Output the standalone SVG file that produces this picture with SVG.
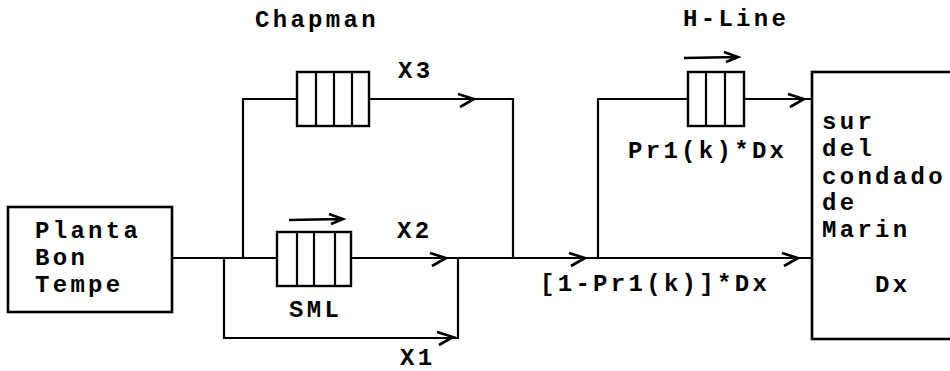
<svg xmlns="http://www.w3.org/2000/svg" width="950" height="371" viewBox="0 0 950 371">
<style>
.ln{fill:none;stroke:#000;stroke-width:2.2;stroke-linecap:square}
.bx{fill:#fff;stroke:#000;stroke-width:2.6}
.q{fill:#fff;stroke:#000;stroke-width:2.4}
.t{font-family:"Liberation Mono","DejaVu Sans Mono",monospace;font-size:24px;letter-spacing:3.3px;fill:#000;font-weight:bold}
</style>
<defs>
<path id="ah" d="M-16,-5 L0,0 L-14,8" fill="none" stroke="#000" stroke-width="2.6" stroke-linejoin="miter"/>
<path id="ta" d="M-54,1 L0,0 M-14,-5 L0,0 L-12,5" fill="none" stroke="#000" stroke-width="2.6"/>
</defs>
<rect width="950" height="371" fill="#fff"/>
<g id="connectors">
<path class="ln" d="M172,258 H277"/>
<path class="ln" d="M243,258 V99 H297"/>
<path class="ln" d="M369,99 H513 V258"/>
<path class="ln" d="M351,258 H812"/>
<path class="ln" d="M224,258 V338 H458 V258"/>
<path class="ln" d="M598,258 V99 H688"/>
<path class="ln" d="M744,99 H812"/>
<use href="#ah" x="474" y="99"/>
<use href="#ah" x="446" y="258"/>
<use href="#ah" x="453" y="337"/>
<use href="#ah" x="585" y="258"/>
<use href="#ah" x="798" y="258"/>
<use href="#ah" x="804" y="99"/>
<use href="#ta" x="343" y="219"/>
<use href="#ta" x="738" y="57"/>
</g>
<g id="planta">
<rect class="bx" x="8" y="207" width="164" height="105"/>
<text class="t" x="35" y="238">Planta</text>
<text class="t" x="35" y="265">Bon</text>
<text class="t" x="35" y="292">Tempe</text>
</g>
<g id="chapman">
<rect class="q" x="297" y="72" width="72" height="54"/>
<path class="ln" d="M316,72 V126 M334,72 V126 M352,72 V126"/>
<text class="t" x="255" y="27">Chapman</text>
</g>
<g id="sml">
<rect class="q" x="277" y="232" width="74" height="54"/>
<path class="ln" d="M297,232 V286 M314,232 V286 M335,232 V286"/>
<text class="t" x="289" y="317">SML</text>
</g>
<g id="hline">
<rect class="q" x="688" y="72" width="56" height="54"/>
<path class="ln" d="M706,72 V126 M725,72 V126"/>
<text class="t" x="683" y="26">H-Line</text>
</g>
<g id="marin">
<rect class="bx" x="812" y="72" width="160" height="267"/>
<text class="t" x="822" y="129">sur</text>
<text class="t" x="822" y="156">del</text>
<text class="t" x="822" y="184">condado</text>
<text class="t" x="822" y="210">de</text>
<text class="t" x="822" y="237">Marin</text>
<text class="t" x="875" y="292">Dx</text>
</g>
<g id="labels">
<text class="t" x="398" y="78">X3</text>
<text class="t" x="397" y="238">X2</text>
<text class="t" x="400" y="365">X1</text>
<text class="t" x="628" y="158">Pr1(k)*Dx</text>
<text class="t" x="540" y="291">[1-Pr1(k)]*Dx</text>
</g>
</svg>
